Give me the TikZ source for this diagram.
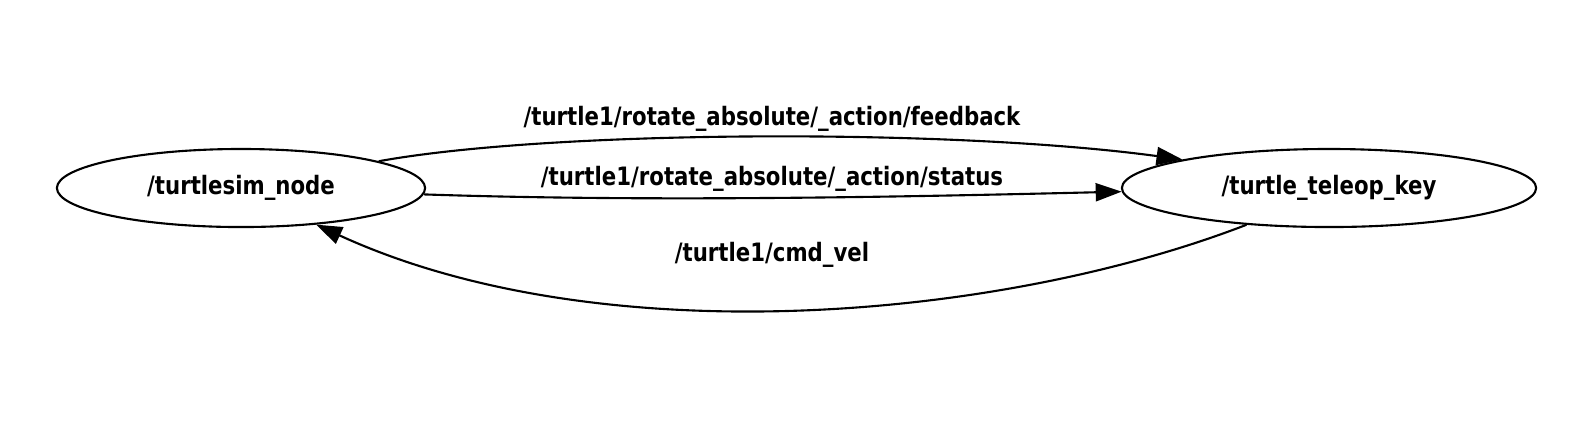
\documentclass[tikz,border=0pt]{standalone}
\usepackage{fontspec}
\setmainfont{DejaVu Sans}[FakeStretch=0.84]
\usetikzlibrary{shapes.geometric,arrows.meta}
\tikzset{
  nd/.style={draw,ellipse,inner sep=0pt,line width=0.6pt,font=\bfseries\fontsize{7.2}{8}\selectfont},
  ed/.style={line width=0.6pt,-{Triangle[length=0.26cm,width=0.18cm]}},
  lb/.style={font=\bfseries\fontsize{7.2}{8}\selectfont}
}
\begin{document}
\begin{tikzpicture}[x=0.01cm,y=-0.01cm]
\useasboundingbox (0,0) rectangle (1580,420);
\node[nd,minimum width=3.68cm,minimum height=0.78cm] (a) at (241,188) {/turtlesim\_node};
\node[nd,minimum width=4.14cm,minimum height=0.78cm] (b) at (1329,188) {/turtle\_teleop\_key};
\draw[ed] (a.11) .. controls (550,130) and (950,128) .. (b.169);
\draw[ed] (a.358) .. controls (650,202) and (900,197) .. (b.181);
\draw[ed] (b.204) .. controls (1000,320) and (600,355) .. (a.334);
\node[lb] (l1) at (772,119) {/turtle1/rotate\_absolute/\_action/feedback};
\node[lb] (l2) at (772,179) {/turtle1/rotate\_absolute/\_action/status};
\node[lb] (l3) at (772,255) {/turtle1/cmd\_vel};
\end{tikzpicture}
\end{document}
